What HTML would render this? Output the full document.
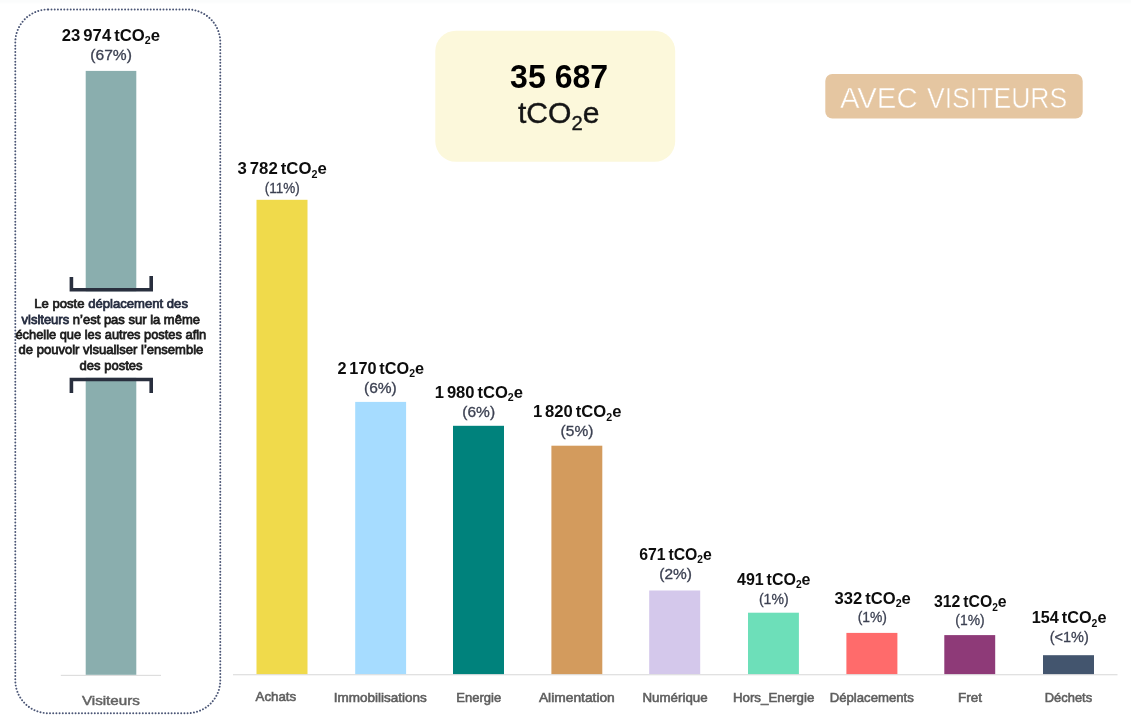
<!DOCTYPE html>
<html lang="fr">
<head>
<meta charset="utf-8">
<title>Bilan carbone – avec visiteurs</title>
<style>
html,body{margin:0;padding:0;background:#fff}
body{width:1138px;height:720px;overflow:hidden;position:relative}
svg{position:absolute;left:0;top:0;display:block}
text{font-family:"Liberation Sans", sans-serif;white-space:pre}
.val{font-size:16.2px;font-weight:700;fill:#0d0d0d;word-spacing:-1.6px}
.val .sb{font-size:10.4px}
.pct{font-size:14.8px;fill:#3c4152;stroke:#3c4152;stroke-width:.3px}
.ax{font-size:12.4px;fill:#5e5e5e;stroke:#5e5e5e;stroke-width:.55px}
.axv{font-size:13.7px;fill:#636363;stroke:#636363;stroke-width:.5px}
.note{font-size:13px;font-weight:400;fill:#1c1c1c;stroke:#1c1c1c;stroke-width:.75px}
.note .nv{fill:#262d40;stroke:#262d40}
.big{font-size:33.8px;font-weight:700;fill:#000}
.unit{font-size:29.2px;fill:#151515;stroke:#151515;stroke-width:.35px}
.unit .sb2{font-size:19.6px}
.badge{font-size:30.2px;fill:#fff;stroke:#e5c6a1;stroke-width:.5px}
</style>
</head>
<body>
<svg width="1138" height="720" viewBox="0 0 1138 720">
<defs><linearGradient id="tg" x1="0" y1="0" x2="0" y2="1"><stop offset="0" stop-color="#fbfcfc"/><stop offset="1" stop-color="#ffffff"/></linearGradient></defs>
<rect x="0" y="0" width="1131" height="2.4" fill="#fbfcfc"/><rect x="0" y="2.4" width="1131" height="1.6" fill="url(#tg)"/>
<rect x="15.3" y="9.4" width="205" height="703.8" rx="33" ry="33" fill="none" stroke="#4a5575" stroke-width="1.95" stroke-linecap="round" stroke-dasharray="0.01 3.19"/>
<rect x="435.3" y="30.7" width="239.9" height="131" rx="20.5" ry="20.5" fill="#fcf8db"/>
<rect x="825.3" y="74" width="257.4" height="44.6" rx="7" ry="7" fill="#e5c6a1"/>
<rect x="60.8" y="674.8" width="100.2" height="1.2" fill="#dedede"/>
<rect x="233" y="674.1" width="884.5" height="1.2" fill="#dedede"/>
<rect x="85.7" y="70.9" width="50.6" height="603.9" fill="#8aaeae"/>
<rect x="60" y="291.3" width="102" height="86.5" fill="#fff"/>
<path d="M71.4 276.9V289.8H151.2V276.1" fill="none" stroke="#292f3e" stroke-width="3.6"/>
<path d="M71.4 393V379.5H151.2V393" fill="none" stroke="#292f3e" stroke-width="3.6"/>
<rect x="256.5" y="199.8" width="51.0" height="474.3" fill="#f0da4b"/>
<rect x="355.2" y="401.9" width="50.9" height="272.2" fill="#a6dcff"/>
<rect x="453.0" y="425.8" width="51.0" height="248.3" fill="#00827c"/>
<rect x="551.4" y="445.7" width="50.9" height="228.4" fill="#d39b5d"/>
<rect x="649.2" y="590.5" width="51.0" height="83.6" fill="#d4c8eb"/>
<rect x="748.0" y="612.7" width="50.9" height="61.4" fill="#6ddfb9"/>
<rect x="846.4" y="632.9" width="51.0" height="41.2" fill="#ff6b6b"/>
<rect x="944.3" y="635.1" width="50.9" height="39.0" fill="#8e3a78"/>
<rect x="1043.0" y="655.2" width="51.0" height="18.9" fill="#43556e"/>
<text id="v0" class="val" transform="translate(61.80 40.7) scale(1.0306 1)">23 974 tCO<tspan class="sb" dy="3.6">2</tspan><tspan dy="-3.6">e</tspan></text>
<text id="v1" class="val" transform="translate(237.50 174.3) scale(1.0338 1)">3 782 tCO<tspan class="sb" dy="3.6">2</tspan><tspan dy="-3.6">e</tspan></text>
<text id="v2" class="val" transform="translate(337.40 373.7) scale(1.0037 1)">2 170 tCO<tspan class="sb" dy="3.6">2</tspan><tspan dy="-3.6">e</tspan></text>
<text id="v3" class="val" transform="translate(434.70 397.6) scale(1.0234 1)">1 980 tCO<tspan class="sb" dy="3.6">2</tspan><tspan dy="-3.6">e</tspan></text>
<text id="v4" class="val" transform="translate(532.90 417.3) scale(1.0269 1)">1 820 tCO<tspan class="sb" dy="3.6">2</tspan><tspan dy="-3.6">e</tspan></text>
<text id="v5" class="val" transform="translate(639.20 559.7) scale(0.9761 1)">671 tCO<tspan class="sb" dy="3.6">2</tspan><tspan dy="-3.6">e</tspan></text>
<text id="v6" class="val" transform="translate(737.00 584.8) scale(0.9882 1)">491 tCO<tspan class="sb" dy="3.6">2</tspan><tspan dy="-3.6">e</tspan></text>
<text id="v7" class="val" transform="translate(834.50 603.5) scale(1.0259 1)">332 tCO<tspan class="sb" dy="3.6">2</tspan><tspan dy="-3.6">e</tspan></text>
<text id="v8" class="val" transform="translate(934.00 607.2) scale(0.9761 1)">312 tCO<tspan class="sb" dy="3.6">2</tspan><tspan dy="-3.6">e</tspan></text>
<text id="v9" class="val" transform="translate(1031.80 623.1) scale(1.0030 1)">154 tCO<tspan class="sb" dy="3.6">2</tspan><tspan dy="-3.6">e</tspan></text>
<text id="p0" class="pct" transform="translate(90.30 59.7) scale(1.0536 1)">(67%)</text>
<text id="p1" class="pct" transform="translate(264.70 193.2) scale(0.9121 1)">(11%)</text>
<text id="p2" class="pct" transform="translate(364.00 392.6) scale(1.0496 1)">(6%)</text>
<text id="p3" class="pct" transform="translate(462.30 416.5) scale(1.0496 1)">(6%)</text>
<text id="p4" class="pct" transform="translate(560.60 436.2) scale(1.0496 1)">(5%)</text>
<text id="p5" class="pct" transform="translate(659.30 579.1) scale(1.0464 1)">(2%)</text>
<text id="p6" class="pct" transform="translate(758.90 603.6) scale(0.9504 1)">(1%)</text>
<text id="p7" class="pct" transform="translate(857.70 622.2) scale(0.9376 1)">(1%)</text>
<text id="p8" class="pct" transform="translate(955.30 625.3) scale(0.9408 1)">(1%)</text>
<text id="p9" class="pct" transform="translate(1049.70 641.8) scale(0.9802 1)">(&lt;1%)</text>
<text id="a0" class="axv" transform="translate(81.90 705.0) scale(1.1100 1)">Visiteurs</text>
<text id="a1" class="ax" transform="translate(255.50 700.6) scale(1.0741 1)">Achats</text>
<text id="a2" class="ax" transform="translate(333.70 701.6) scale(1.0903 1)">Immobilisations</text>
<text id="a3" class="ax" transform="translate(456.30 701.5) scale(1.0511 1)">Energie</text>
<text id="a4" class="ax" transform="translate(538.90 701.5) scale(1.1131 1)">Alimentation</text>
<text id="a5" class="ax" transform="translate(642.50 701.5) scale(1.0741 1)">Numérique</text>
<text id="a6" class="ax" transform="translate(732.90 701.5) scale(1.0744 1)">Hors_Energie</text>
<text id="a7" class="ax" transform="translate(829.70 701.5) scale(1.0631 1)">Déplacements</text>
<text id="a8" class="ax" transform="translate(958.00 701.5) scale(1.0894 1)">Fret</text>
<text id="a9" class="ax" transform="translate(1044.80 701.5) scale(1.0403 1)">Déchets</text>
<text id="n1" class="note" transform="translate(34.30 308.2) scale(1.0078 1)">Le poste <tspan class="nv">déplacement des</tspan></text>
<text id="n2" class="note" transform="translate(21.50 323.5) scale(1.0002 1)"><tspan class="nv">visiteurs</tspan> n’est pas sur la même</text>
<text id="n3" class="note" transform="translate(15.40 338.9) scale(0.9903 1)">échelle que les autres postes afin</text>
<text id="n4" class="note" transform="translate(18.50 354.1) scale(1.0040 1)">de pouvoir visualiser l’ensemble</text>
<text id="n5" class="note" transform="translate(79.60 369.5) scale(1.0020 1)">des postes</text>
<text id="t1" class="big" transform="translate(510.10 87.5) scale(0.9480 1)">35 687</text>
<text id="t2" class="unit" transform="translate(518.00 122.7) scale(1.0312 1)">tCO<tspan class="sb2" dy="7.2">2</tspan><tspan dy="-7.2">e</tspan></text>
<text id="b1" class="badge" transform="translate(839.90 107.9) scale(0.9716 1)">AVEC</text>
<text id="b2" class="badge" transform="translate(927.00 107.9) scale(0.8798 1)">VISITEURS</text>
</svg>
</body>
</html>
